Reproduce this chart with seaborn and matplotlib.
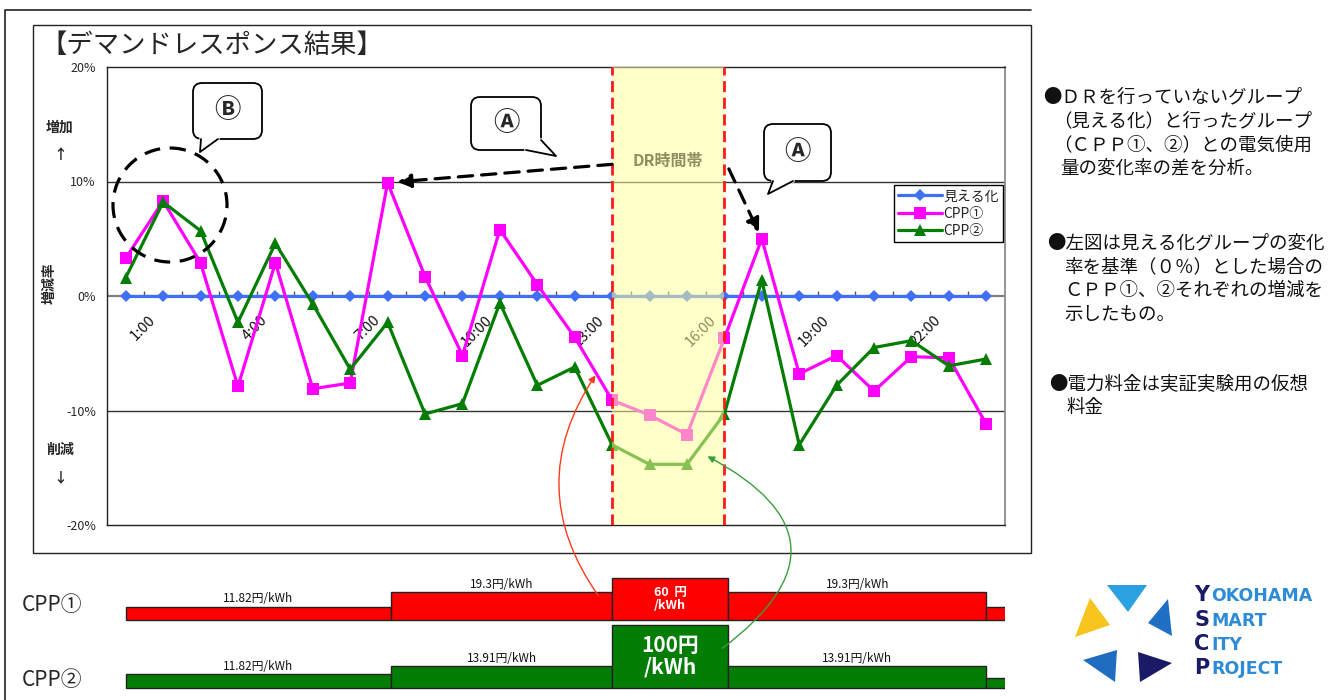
import numpy as np
import matplotlib
matplotlib.use('Agg')
import matplotlib.pyplot as plt
import seaborn as sns
from matplotlib.patches import Rectangle, Ellipse, FancyBboxPatch, Polygon, FancyArrowPatch

# --- data ---------------------------------------------------------------
hour_idx = list(range(24))              # 1:00 ... 24:00
tick_idx = [0, 3, 6, 9, 12, 15, 18, 21]
tick_labels = ['1:00', '4:00', '7:00', '10:00', '13:00', '16:00', '19:00', '22:00']

mieruka = [0.0] * 24
cpp1 = [3.3, 8.3, 2.9, -7.9, 2.9, -8.1, -7.6, 9.9, 1.7, -5.2, 5.8, 1.0,
        -3.6, -9.1, -10.4, -12.1, -3.7, 5.0, -6.8, -5.2, -8.3, -5.3, -5.4, -11.2]
cpp2 = [1.6, 8.2, 5.7, -2.3, 4.6, -0.7, -6.4, -2.3, -10.3, -9.4, -0.6, -7.8,
        -6.2, -13.0, -14.7, -14.7, -10.3, 1.4, -13.0, -7.8, -4.5, -3.9, -6.1, -5.5]

y_ticks = [-20, -10, 0, 10, 20]
y_tick_labels = ['-20%', '-10%', '0%', '10%', '20%']

dr_start, dr_end = 13, 16               # DR window (index on the hour axis)

# tariff schedule (segments on the same hour axis)
tariff_start = [0, 7.1, 13, 16.1, 23]
tariff_end = [7.1, 13, 16.1, 23, 23.6]
cpp1_rate = [11.82, 19.3, 60, 19.3, 11.82]
cpp2_rate = [11.82, 13.91, 100, 13.91, 11.82]
cpp1_bar_h = [13, 28, 42, 28, 13]       # schematic bar heights
cpp2_bar_h = [14, 22, 63, 22, 10]

right_notes = [
    ('●ＤＲを行っていないグループ', 1043, 97),
    ('（見える化）と行ったグループ', 1053, 121),
    ('（ＣＰＰ①、②）との電気使用', 1053, 145),
    ('量の変化率の差を分析。', 1060, 169),
    ('●左図は見える化グループの変化', 1047, 243),
    ('率を基準（０％）とした場合の', 1064, 267),
    ('ＣＰＰ①、②それぞれの増減を', 1064, 291),
    ('示したもの。', 1064, 315),
    ('●電力料金は実証実験用の仮想', 1049, 384),
    ('料金', 1066, 408),
]

# --- style --------------------------------------------------------------
sns.set_theme(style='white')
plt.rcParams['font.family'] = ['Noto Sans CJK JP', 'DejaVu Sans']

W, H = 1333, 700
fig = plt.figure(figsize=(W / 100, H / 100), dpi=100)
fig.patch.set_facecolor('white')

BLUE, PINK, GREEN = '#3F6FF5', '#FF00FF', '#037D03'

# main chart axes
ax = fig.add_axes([107 / W, 1 - 525 / H, 898 / W, 458 / H])
ax.set_facecolor('white')

sns.lineplot(x=hour_idx, y=mieruka, ax=ax, color=BLUE, lw=2.3, marker='D',
             markersize=6.5, markeredgewidth=0, label='見える化')
sns.lineplot(x=hour_idx, y=cpp1, ax=ax, color=PINK, lw=2.3, marker='s',
             markersize=8, markeredgewidth=0, label='CPP①')
sns.lineplot(x=hour_idx, y=cpp2, ax=ax, color=GREEN, lw=2.3, marker='^',
             markersize=8.5, markeredgewidth=0, label='CPP②')

ax.set_xlim(-0.5, len(hour_idx) - 0.5)
ax.set_ylim(-20, 20)
ax.set_yticks(y_ticks)
ax.set_yticklabels(y_tick_labels, fontsize=9)
ax.set_xticks([])
ax.tick_params(axis='y', length=0, pad=8)
ax.set_xlabel('')
ax.set_ylabel('')
for s in ['left', 'top', 'bottom']:
    ax.spines[s].set_color('#222222')
    ax.spines[s].set_linewidth(1)
ax.spines['right'].set_color('#888888')
for v in [-10, 10]:
    ax.axhline(v, color='#333333', lw=1, zorder=1)
ax.axhline(0, color='#808080', lw=1.6, zorder=1)

# minor tick marks on the zero line (category boundaries)
bounds = np.arange(len(hour_idx) + 1) - 0.5
ax.vlines(bounds, 0, 0.45, color='#555555', lw=1, zorder=1)

# category labels
for i, lab in zip(tick_idx, tick_labels):
    ax.text(i + 0.6, -1.5, lab, rotation=45, rotation_mode='anchor',
            ha='right', va='top', fontsize=10.5, color='#111111', zorder=1.5)

# DR window
ax.axvspan(dr_start, dr_end, color='#FFFF99', alpha=0.53, lw=0, zorder=4)
for xv in [dr_start, dr_end]:
    ax.axvline(xv, color='#FF1A1A', lw=2, ls=(0, (4, 2)), zorder=6)
ax.text((dr_start + dr_end) / 2, 11.8, 'DR時間帯', ha='center', va='center',
        fontsize=11.5, fontweight='bold', color='#8E8E62', zorder=6)

leg = ax.legend(loc='upper right', bbox_to_anchor=(0.998, 0.742), frameon=True,
                fancybox=False, edgecolor='black', framealpha=1, fontsize=10,
                handlelength=3.2, handletextpad=0.1, borderpad=0.3,
                labelspacing=0.25, borderaxespad=0)
leg.get_frame().set_linewidth(1)

# dashed arrows pointing at the CPP① peaks
dash_arrow = dict(arrowstyle='-|>', lw=2.3, ls=(0, (4.5, 2.8)), color='black',
                  mutation_scale=20, shrinkA=0)
ax.annotate('', xy=(7, cpp1[7]), xytext=(dr_start, 11.5),
            arrowprops=dict(dash_arrow, shrinkB=7), zorder=7)
ax.annotate('', xy=(17, cpp1[17]), xytext=(dr_end + 0.12, 11.1),
            arrowprops=dict(dash_arrow, shrinkB=5), zorder=7)

# --- tariff bars ----------------------------------------------------------
bx = fig.add_axes([107 / W, 0, 898 / W, 140 / H])
bx.set_xlim(-0.5, len(hour_idx) - 0.5)
bx.set_ylim(0, 140)
bx.axis('off')

rows = [(cpp1_rate, cpp1_bar_h, 80, '#FF0000', 9),
        (cpp2_rate, cpp2_bar_h, 12, '#037D03', 15)]
for rates, heights, base, col, peak_fs in rows:
    widths = [e - s for s, e in zip(tariff_start, tariff_end)]
    bx.bar(tariff_start, heights, width=widths, bottom=base, align='edge',
           color=col, edgecolor='#222222', lw=1)
    for k, (s, e, r, h) in enumerate(zip(tariff_start, tariff_end, rates, heights)):
        mid = (s + e) / 2
        if k == 2:
            sep = '  ' if r < 100 else ''
            bx.text(mid, base + h / 2, f'{r:g}{sep}円\n/kWh', ha='center',
                    va='center', color='white', fontweight='bold',
                    fontsize=peak_fs, linespacing=1.05)
        elif k < 4:
            bx.text(mid, base + h + 1.5, f'{r:g}円/kWh', ha='center',
                    va='bottom', fontsize=8.5, color='#111111')

fig.text(22 / W, 1 - 605 / H, 'CPP①', fontsize=15, va='center', ha='left')
fig.text(22 / W, 1 - 680 / H, 'CPP②', fontsize=15, va='center', ha='left')

# --- overlay in pixel coordinates -----------------------------------------
ov = fig.add_axes([0, 0, 1, 1], zorder=10)
ov.set_xlim(0, W)
ov.set_ylim(H, 0)
ov.axis('off')
ov.patch.set_alpha(0)

# frames
ov.plot([5, 5, 1031], [700, 10, 10], color='#222222', lw=1.2)
ov.add_patch(Rectangle((33, 25), 998, 528, fill=False, ec='#222222', lw=1))

ov.text(40, 45, '【デマンドレスポンス結果】', fontsize=19, va='center', ha='left')

# side labels of the y axis
ov.text(50, 283, '増減率', rotation=90, fontsize=10, fontweight='bold',
        ha='center', va='center')
for txt, yy in [('増加', 128), ('↑', 155), ('削減', 450), ('↓', 478)]:
    ov.text(60, yy, txt, fontsize=10, fontweight='bold', ha='center', va='center')


def bubble(x0, y0, x1, y1, b0, b1, tip, letter):
    ov.add_patch(FancyBboxPatch((x0, y0), x1 - x0, y1 - y0,
                                boxstyle='round,pad=0,rounding_size=9',
                                fc='white', ec='black', lw=1.3, zorder=3))
    ov.add_patch(Polygon([b0, b1, tip], closed=True, fc='white', ec='none', zorder=3.1))
    ov.plot([b0[0], b1[0]], [b0[1], b1[1]], color='white', lw=2.6, zorder=3.2)
    ov.plot([b0[0], tip[0], b1[0]], [b0[1], tip[1], b1[1]], color='black',
            lw=1.3, zorder=3.3)
    ov.text((x0 + x1) / 2, (y0 + y1) / 2, letter, fontsize=19, ha='center',
            va='center', zorder=3.4, fontweight='bold',
            family=['Noto Sans CJK JP', 'DejaVu Sans'])


bubble(193, 83, 262, 139, (201, 139), (218, 139), (200, 152), 'Ⓑ')
bubble(471, 97, 541, 150, (526, 150), (541, 140), (556, 156), 'Ⓐ')
bubble(764, 124, 831, 181, (773, 181), (793, 181), (768, 194), 'Ⓐ')

ov.add_patch(Ellipse((170, 205), 114, 114, fill=False, ec='black', lw=2.3,
                     ls=(0, (5, 3)), zorder=5))

# curved arrows from the tariff bars to the DR window
ov.add_patch(FancyArrowPatch((600, 598), (597, 373), connectionstyle='arc3,rad=-0.35',
                             arrowstyle='-|>', mutation_scale=10, color='#FF3A1A',
                             lw=1, zorder=5))
ov.add_patch(FancyArrowPatch((720, 650), (705, 455), connectionstyle='arc3,rad=0.8',
                             arrowstyle='-|>', mutation_scale=10, color='#3C9E3C',
                             lw=1, zorder=5))

# right-hand notes
for txt, xx, yy in right_notes:
    ov.text(xx, yy, txt, fontsize=13.3, ha='left', va='center', color='#111111')

# logo
logo_tris = [
    ([(1075, 637), (1090, 598), (1110, 625)], '#F7C51E'),
    ([(1107, 585), (1147, 585), (1128, 612)], '#2AA2E2'),
    ([(1168, 599), (1172, 636), (1148, 623)], '#1F6FC5'),
    ([(1083, 660), (1117, 650), (1115, 682)], '#1F6CC0'),
    ([(1138, 652), (1172, 663), (1140, 682)], '#1B1A66'),
]
for pts, col in logo_tris:
    ov.add_patch(Polygon(pts, closed=True, fc=col, ec='none'))
for k, word in enumerate(['YOKOHAMA', 'SMART', 'CITY', 'PROJECT']):
    yy = 595 + k * 24.5
    ov.text(1194, yy, word[0], fontsize=15, fontweight='bold', color='#1B1A66',
            ha='left', va='center', family='DejaVu Sans')
    ov.text(1211, yy + 1, word[1:], fontsize=12.5, fontweight='bold',
            color='#2E8BD6', ha='left', va='center', family='DejaVu Sans')

fig.savefig('out.png', dpi=100, facecolor='white')
